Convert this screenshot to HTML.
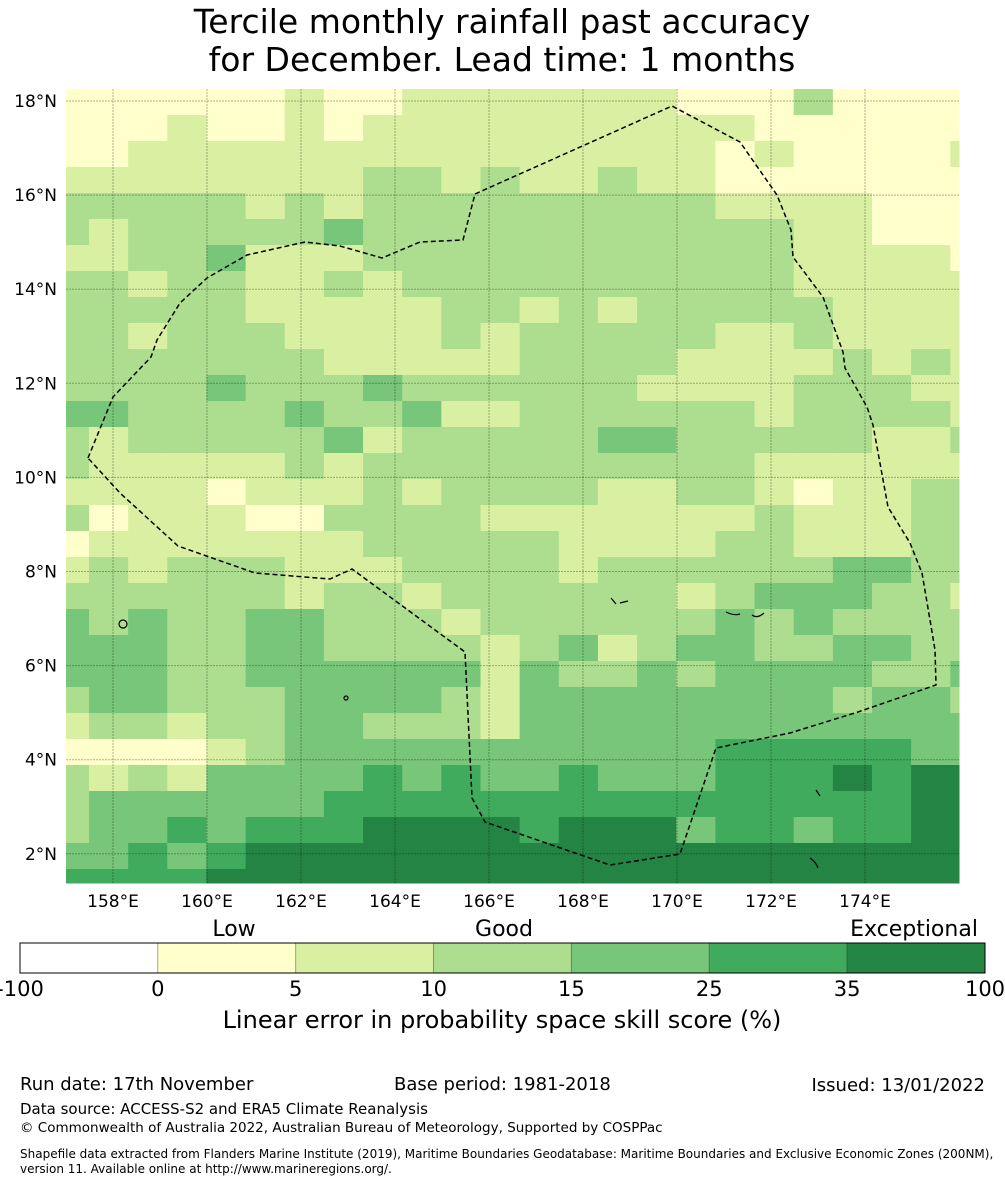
<!DOCTYPE html>
<html><head><meta charset="utf-8">
<style>
html,body{margin:0;padding:0;background:#fff;}
body{width:1005px;height:1185px;overflow:hidden;font-family:"DejaVu Sans","Liberation Sans",sans-serif;}
svg text{font-family:"DejaVu Sans","Liberation Sans",sans-serif;fill:#000;}
</style></head>
<body>
<svg id="chart" width="1005" height="1185" viewBox="0 0 1005 1185" xmlns="http://www.w3.org/2000/svg">
  <text x="502" y="33" font-size="33" text-anchor="middle">Tercile monthly rainfall past accuracy</text>
  <text x="502" y="71" font-size="33" text-anchor="middle">for December. Lead time: 1 months</text>
  <g id="cells"></g>
  <g id="grid"></g>
  <polyline id="eez" fill="none" stroke="#000" stroke-width="1.5" stroke-dasharray="5,3"
    points="88,458 113,397 151,357 157,340 180,303 207,278 247,255 305,242 340,246 382,258 420,242 463,240 475,194 672,106 740,142 777,195 791,230 793,257 823,297 843,352 845,368 867,407 873,425 888,507 910,543 922,573 930,620 935,650 936,685 858,712 790,733 716,748 680,854 610,865 485,822 472,798 465,652 352,569 330,579 255,573 178,546 120,493 88,458"/>
  <g id="islands" fill="none" stroke="#000" stroke-width="1.2">
    <circle cx="123" cy="624" r="4"/><circle cx="346" cy="698" r="2"/>
    <path d="M726 612 q8 4 14 2 M752 615 q5 4 12 -2 M611 598 l5 6 M620 603 l8 -2 M816 790 l4 6 M810 858 q6 4 8 10"/>
  </g>
  <g id="xticks"></g>
  <g id="yticks"></g>
  <g id="colorbar"></g>
  <text x="234" y="936" font-size="22" text-anchor="middle">Low</text>
  <text x="504" y="936" font-size="22" text-anchor="middle">Good</text>
  <text x="914" y="936" font-size="22" text-anchor="middle">Exceptional</text>
  <text x="502" y="1028" font-size="24" text-anchor="middle">Linear error in probability space skill score (%)</text>
  <text x="20" y="1090" font-size="18">Run date: 17th November</text>
  <text x="394" y="1090" font-size="18">Base period: 1981-2018</text>
  <text x="985" y="1091" font-size="18" text-anchor="end">Issued: 13/01/2022</text>
  <text x="20" y="1114" font-size="15">Data source: ACCESS-S2 and ERA5 Climate Reanalysis</text>
  <text x="20" y="1132" font-size="13.5">© Commonwealth of Australia 2022, Australian Bureau of Meteorology, Supported by COSPPac</text>
  <text x="20" y="1158" font-size="12">Shapefile data extracted from Flanders Marine Institute (2019), Maritime Boundaries Geodatabase: Maritime Boundaries and Exclusive Economic Zones (200NM),</text>
  <text x="20" y="1173" font-size="12">version 11. Available online at http://www.marineregions.org/.</text>
</svg>
<script>
const levelColors = ["#ffffff","#ffffcc","#d9f0a3","#addd8e","#78c679","#41ab5d","#238443"];
const cbTicks = ["-100","0","5","10","15","25","35","100"];
const lonTicks = [158,160,162,164,166,168,170,172,174];
const latTicks = [18,16,14,12,10,8,6,4,2];
const skillRows = [
[1,1,1,1,1,1,2,1,1,2,2,2,2,2,2,2,1,1,1,3,1,1,1,1],
[1,1,1,2,1,1,2,1,2,2,2,2,2,2,2,2,2,2,1,1,1,1,1,1],
[1,1,2,2,2,2,2,2,2,2,2,2,2,2,2,2,2,1,2,1,1,1,1,2],
[2,2,2,2,2,2,2,2,3,3,2,3,2,2,3,2,2,1,1,1,1,1,1,1],
[3,3,3,3,3,2,3,2,3,3,3,3,3,3,3,3,3,2,2,2,2,1,1,1],
[3,2,3,3,3,3,3,4,3,3,3,3,3,3,3,3,3,3,3,2,2,1,1,1],
[2,2,3,3,4,2,2,2,3,3,3,3,3,3,3,3,3,3,3,2,2,2,2,1],
[3,3,2,3,3,2,2,3,2,3,3,3,3,3,3,3,3,3,3,2,2,2,2,2],
[3,3,3,3,3,2,2,2,2,2,3,3,2,3,2,3,3,3,3,3,2,2,2,2],
[3,3,2,3,3,3,2,2,2,2,3,2,3,3,3,3,3,2,2,3,2,2,2,2],
[3,3,3,3,3,3,3,2,2,2,2,2,3,3,3,3,2,2,2,2,3,2,3,2],
[3,3,3,3,4,3,3,3,4,3,3,3,3,3,3,2,2,2,2,3,3,3,2,2],
[4,4,3,3,3,3,4,3,3,4,2,2,3,3,3,3,3,3,2,3,3,3,3,2],
[3,2,3,3,3,3,3,4,2,3,3,3,3,3,4,4,3,3,3,3,3,2,2,3],
[3,2,2,2,2,2,3,2,3,3,3,3,3,3,3,3,3,3,2,2,2,2,2,2],
[2,2,2,2,1,2,2,2,3,2,3,3,3,3,2,2,3,3,2,1,2,2,3,3],
[3,1,2,2,2,1,1,3,3,3,3,2,2,2,2,2,2,2,3,2,2,2,3,3],
[1,2,2,2,2,2,2,2,3,3,3,3,3,2,2,2,2,3,3,2,2,2,3,3],
[2,3,2,3,3,3,2,2,2,3,3,3,3,2,3,3,3,3,3,3,4,4,3,3],
[3,3,3,3,3,3,2,3,3,2,3,3,3,3,3,3,2,3,4,4,4,3,3,2],
[4,3,4,3,3,4,4,3,3,3,2,3,3,3,3,3,3,4,3,4,3,3,3,3],
[4,4,4,3,3,4,4,3,3,3,3,2,3,4,2,3,4,4,3,3,4,4,3,3],
[4,4,4,3,3,4,4,4,4,4,4,2,4,3,3,4,3,4,4,4,4,3,3,4],
[3,4,4,3,3,3,4,4,4,4,3,2,4,4,4,4,4,4,4,4,3,4,4,3],
[2,3,3,2,3,3,4,4,3,3,3,2,4,4,4,4,4,4,4,4,4,4,4,4],
[1,1,1,1,2,3,4,4,4,4,4,4,4,4,4,4,4,5,5,5,5,5,4,4],
[3,2,3,2,4,4,4,4,5,4,5,4,4,5,4,4,4,5,5,5,6,5,6,6],
[3,4,4,4,4,4,4,5,5,5,5,5,5,5,5,5,5,5,5,5,5,5,6,6],
[3,4,4,5,4,5,5,5,6,6,6,6,5,6,6,6,4,5,5,4,5,5,6,6],
[4,4,5,4,5,6,6,6,6,6,6,6,6,6,6,6,6,6,6,6,6,6,6,6],
[5,5,5,5,6,6,6,6,6,6,6,6,6,6,6,6,6,6,6,6,6,6,6,6]
];
const NS="http://www.w3.org/2000/svg";
const mapL=66, mapR=959, mapT=89, mapB=883;
const colX0=89, colW=39.15, rowY0=89, rowH=26;
function colLeft(c){return c===0?mapL:colX0+(c-1)*colW;}
function colRight(c){return Math.min(mapR, colX0+c*colW);}
function rowTop(r){return rowY0+r*rowH;}
function rowBottom(r){return Math.min(mapB, rowY0+(r+1)*rowH);}
function lonX(lon){return 113+(lon-158)*47.0;}
function latY(lat){return 101+(18-lat)*47.05;}
const cells=document.getElementById('cells');
skillRows.forEach((row,r)=>{row.forEach((v,c)=>{
  const el=document.createElementNS(NS,'rect');
  el.setAttribute('x',colLeft(c));el.setAttribute('y',rowTop(r));
  el.setAttribute('width',colRight(c)-colLeft(c)+0.5);el.setAttribute('height',rowBottom(r)-rowTop(r)+0.5);
  el.setAttribute('fill',levelColors[v]);
  
  
  cells.appendChild(el);
});});
const grid=document.getElementById('grid');
const xt=document.getElementById('xticks'), yt=document.getElementById('yticks');
lonTicks.forEach(lon=>{
  const x=lonX(lon);
  const l=document.createElementNS(NS,'line');
  l.setAttribute('x1',x);l.setAttribute('x2',x);l.setAttribute('y1',mapT);l.setAttribute('y2',mapB);
  l.setAttribute('stroke','rgba(0,0,0,0.3)');l.setAttribute('stroke-width','1');l.setAttribute('stroke-dasharray','2,1');
  
  
  grid.appendChild(l);
  const t=document.createElementNS(NS,'text');
  t.setAttribute('x',x);t.setAttribute('y',907);t.setAttribute('font-size','17');t.setAttribute('text-anchor','middle');
  t.textContent=lon+'°E';
  
  
  xt.appendChild(t);
});
latTicks.forEach(lat=>{
  const y=latY(lat);
  const l=document.createElementNS(NS,'line');
  l.setAttribute('x1',mapL);l.setAttribute('x2',mapR);l.setAttribute('y1',y);l.setAttribute('y2',y);
  l.setAttribute('stroke','rgba(0,0,0,0.3)');l.setAttribute('stroke-width','1');l.setAttribute('stroke-dasharray','2,1');
  
  
  grid.appendChild(l);
  const t=document.createElementNS(NS,'text');
  t.setAttribute('x',57);t.setAttribute('y',y+6);t.setAttribute('font-size','17');t.setAttribute('text-anchor','end');
  t.textContent=lat+'°N';
  
  
  yt.appendChild(t);
});
const cb=document.getElementById('colorbar');
const cbL=20, cbR=985, cbT=943, cbH=30, segW=(cbR-cbL)/7;
for(let i=0;i<7;i++){
  const r=document.createElementNS(NS,'rect');
  r.setAttribute('x',cbL+i*segW);r.setAttribute('y',cbT);r.setAttribute('width',segW);r.setAttribute('height',cbH);
  r.setAttribute('fill',levelColors[i]);r.setAttribute('stroke','rgba(0,0,0,0.25)');r.setAttribute('stroke-width','1');
  
  
  cb.appendChild(r);
}
const fr=document.createElementNS(NS,'rect');
fr.setAttribute('x',cbL);fr.setAttribute('y',cbT);fr.setAttribute('width',cbR-cbL);fr.setAttribute('height',cbH);
fr.setAttribute('fill','none');fr.setAttribute('stroke','#000');fr.setAttribute('stroke-width','1');


cb.appendChild(fr);
cbTicks.forEach((lab,i)=>{
  const t=document.createElementNS(NS,'text');
  t.setAttribute('x',cbL+i*segW);t.setAttribute('y',996);t.setAttribute('font-size','21');t.setAttribute('text-anchor','middle');
  t.textContent=lab;
  
  
  cb.appendChild(t);
});
</script>
</body></html>
